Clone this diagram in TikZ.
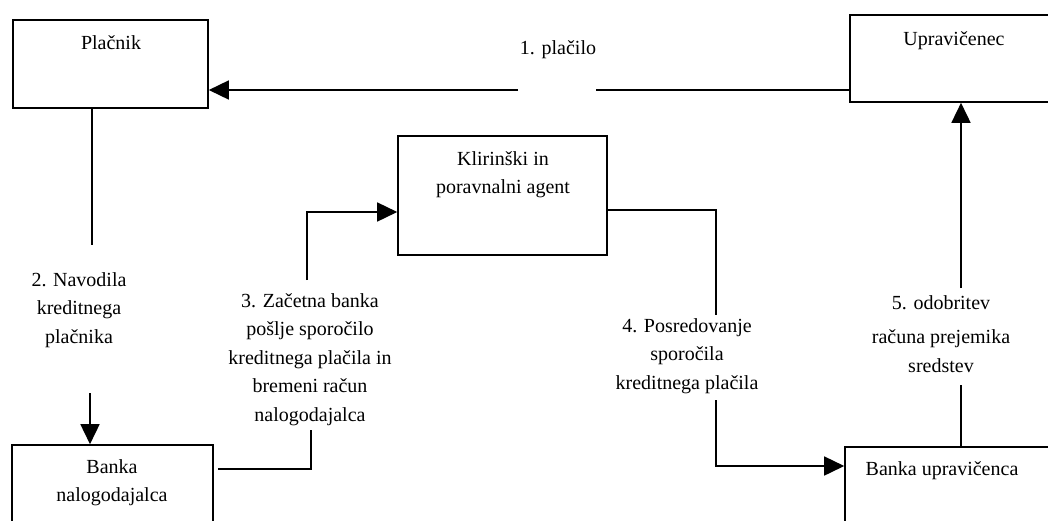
\documentclass[tikz,border=0pt]{standalone}
\usepackage{fontspec}
\setmainfont{Liberation Serif}
\usetikzlibrary{arrows.meta,fit}
% uniform line strut so every text line has the same height and depth
\newcommand\ls{\rule[-5pt]{0pt}{19pt}}
\begin{document}
\begin{tikzpicture}[x=1pt,y=-1pt,
  box/.style={draw, line width=1.6pt, inner sep=0pt},
  lbl/.style={font=\fontsize{20}{28.5}\selectfont, align=center, inner sep=0pt, anchor=north},
  link/.style={line width=1.6pt},
  arr/.style={link, -{Triangle[length=20pt,width=19pt]}}]
\useasboundingbox (0,0) rectangle (1048,520);
\fill[white] (0,0) rectangle (1048,520);
\clip (0,0) rectangle (1048,520);

% participants
\node[box, fit={(13,20) (208,108)}] (plac) {};
\node[box, fit={(850,15) (1070,102)}] (upr) {};
\node[box, fit={(398,136) (607,255)}] (kli) {};
\node[box, fit={(12,445) (213,540)}] (bnal) {};
\node[box, fit={(845,447) (1070,540)}] (bupr) {};

% box captions
\node[lbl] (tplac) at (111,35) {\ls Plačnik};
\node[lbl] (tupr) at (954,31) {\ls Upravičenec};
\node[lbl] (tkli) at (503,151) {\ls Klirinški in\\\ls poravnalni agent};
\node[lbl] (tbnal) at (112,459) {\ls Banka\\\ls nalogodajalca};
\node[lbl] (tbupr) at (942,461) {\ls Banka upravičenca};

% step labels
\node[lbl] (l1) at (558,40) {\ls 1. plačilo};
\node[lbl] (l2) at (79,272) {\ls 2. Navodila\\\ls kreditnega\\\ls plačnika};
\node[lbl] (l3) at (310,293) {\ls 3. Začetna banka\\\ls pošlje sporočilo\\\ls kreditnega plačila in\\\ls bremeni račun\\\ls nalogodajalca};
\node[lbl] (l4) at (687,318) {\ls 4. Posredovanje\\\ls sporočila\\\ls kreditnega plačila};
\node[lbl] (l5) at (941,295) {\ls 5. odobritev\\[6pt]\ls računa prejemika\\\ls sredstev};

% 1: payment
\coordinate (c1a) at (596,90);
\coordinate (c1b) at (518,90);
\draw[link] (upr.west |- c1a) -- (c1a);
\draw[arr] (c1b) -- (plac.east |- c1b);

% 2: payer instructions
\coordinate (c2a) at (92,245);
\coordinate (c2b) at (90,393);
\draw[link] (plac.south -| c2a) -- (c2a);
\draw[arr] (c2b) -- (bnal.north -| c2b);

% 3: originating bank sends the message
\coordinate (c3a) at (218,469);
\coordinate (c3b) at (311,430);
\coordinate (c3c) at (307,280);
\coordinate (c3d) at (307,212);
\draw[link] (c3a) -- (c3a -| c3b) -- (c3b);
\draw[arr] (c3c) -- (c3d) -- (kli.west |- c3d);

% 4: forwarding
\coordinate (c4t) at (716,210);
\coordinate (c4a) at (716,315);
\coordinate (c4b) at (716,400);
\coordinate (c4d) at (716,466);
\draw[link] (kli.east |- c4t) -- (c4t) -- (c4a);
\draw[arr] (c4b) -- (c4d) -- (bupr.west |- c4d);

% 5: crediting the beneficiary
\coordinate (c5a) at (961,385);
\coordinate (c5b) at (961,288);
\draw[link] (bupr.north -| c5a) -- (c5a);
\draw[arr] (c5b) -- (upr.south -| c5b);
\end{tikzpicture}
\end{document}
